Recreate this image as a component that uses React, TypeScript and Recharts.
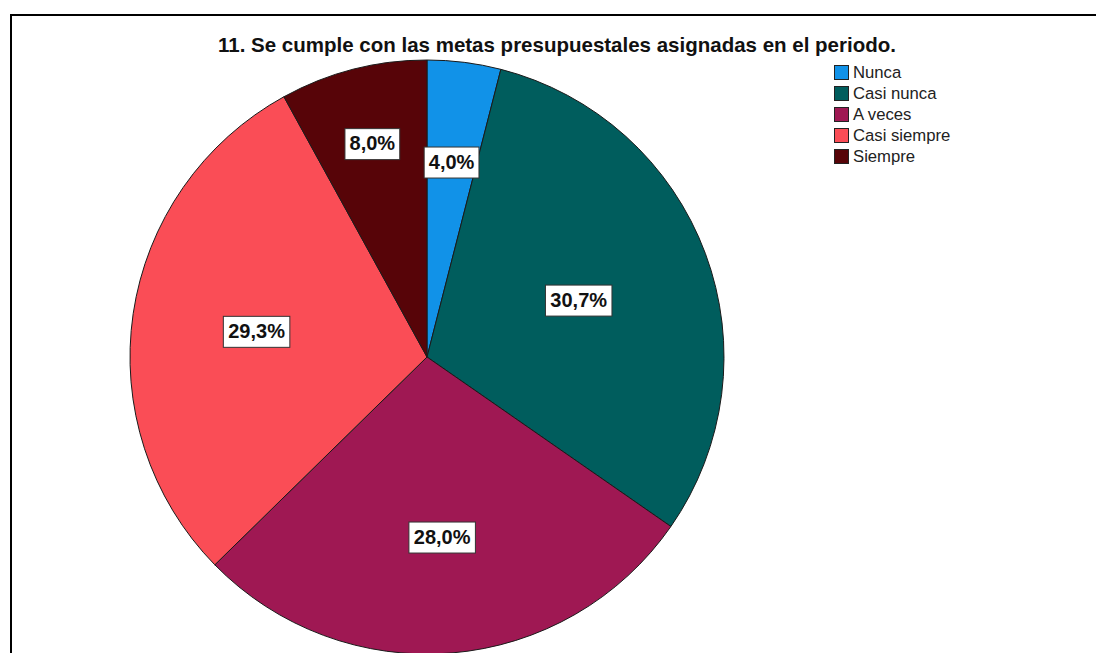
import React from "react";
import { Cell, Legend, Pie, PieChart } from "recharts";

const categories = ["Nunca", "Casi nunca", "A veces", "Casi siempre", "Siempre"];
const counts = [3, 23, 21, 22, 6];
const colors = ["#1192e8", "#005d5d", "#9f1853", "#fa4d56", "#570408"];
// how far out each label box sits, as a share of the radius
const labelRadius = [0.66, 0.545, 0.61, 0.58, 0.74];

const title = "11. Se cumple con las metas presupuestales asignadas en el periodo.";
const FONT = "Arial, 'Liberation Sans', sans-serif";

const total = counts.reduce((a, b) => a + b, 0);
const data = categories.map((name, i) => ({ name, value: counts[i] }));

const fmt = (v: number) => ((v / total) * 100).toFixed(1).replace(".", ",") + "%";

const RAD = Math.PI / 180;

function SliceLabel(props: any) {
  const { cx, cy, midAngle, outerRadius, index, value } = props;
  const r = outerRadius * labelRadius[index];
  const x = cx + r * Math.cos(-midAngle * RAD);
  const y = cy + r * Math.sin(-midAngle * RAD);
  const text = fmt(value);
  const w = text.length * 11.7 + 8;
  const h = 31;
  return (
    <g>
      <rect
        x={x - w / 2}
        y={y - h / 2}
        width={w}
        height={h}
        fill="#ffffff"
        stroke="#333333"
        strokeWidth={1}
      />
      <text
        x={x}
        y={y + 1}
        textAnchor="middle"
        dominantBaseline="middle"
        fontFamily={FONT}
        fontWeight="bold"
        fontSize={20}
        fill="#111111"
      >
        {text}
      </text>
    </g>
  );
}

function LegendBox() {
  return (
    <div style={{ fontFamily: FONT, fontSize: 16.7, color: "#222" }}>
      {categories.map((c, i) => (
        <div key={c} style={{ display: "flex", alignItems: "center", height: 21 }}>
          <span
            style={{
              display: "inline-block",
              width: 13,
              height: 13,
              background: colors[i],
              border: "1px solid #222",
              marginRight: 4,
            }}
          />
          <span>{c}</span>
        </div>
      ))}
    </div>
  );
}

export default function App() {
  return (
    <div
      style={{
        position: "fixed",
        left: 0,
        top: 0,
        width: 1096,
        height: 653,
        background: "#ffffff",
        overflow: "hidden",
      }}
    >
      <div
        style={{
          position: "absolute",
          left: 10,
          top: 14,
          right: -10,
          bottom: -10,
          borderLeft: "2px solid #000",
          borderTop: "2px solid #000",
        }}
      />
      <div
        style={{
          position: "absolute",
          left: 0,
          width: 1114,
          top: 33,
          textAlign: "center",
          fontFamily: FONT,
          fontWeight: "bold",
          fontSize: 20.5,
          color: "#111",
        }}
      >
        {title}
      </div>
      <div style={{ position: "absolute", left: 0, top: 0 }}>
        <PieChart width={1096} height={653} margin={{ top: 0, right: 0, bottom: 0, left: 0 }}>
          <Pie
            data={data}
            dataKey="value"
            nameKey="name"
            cx={427}
            cy={357}
            outerRadius={297}
            startAngle={90}
            endAngle={-270}
            stroke="#1a1a1a"
            strokeWidth={1}
            label={SliceLabel}
            labelLine={false}
            isAnimationActive={false}
          >
            {data.map((d, i) => (
              <Cell key={d.name} fill={colors[i]} />
            ))}
          </Pie>
          <Legend
            content={() => <LegendBox />}
            wrapperStyle={{ position: "absolute", left: 834, top: 62, width: 200 }}
          />
        </PieChart>
      </div>
    </div>
  );
}
